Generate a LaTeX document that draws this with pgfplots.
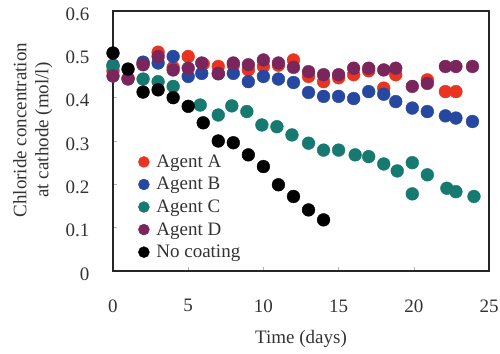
\documentclass[border=0pt]{standalone}
\usepackage{fontspec}
\setmainfont{Liberation Serif}
\usepackage{pgfplots}
\pgfplotsset{compat=1.18}
\definecolor{cA}{RGB}{232,52,32}
\definecolor{cB}{RGB}{38,72,160}
\definecolor{cC}{RGB}{22,122,112}
\definecolor{cD}{RGB}{122,38,92}
\definecolor{cE}{RGB}{0,0,0}
\begin{document}
\begin{tikzpicture}
\useasboundingbox (-113pt,-82pt) rectangle (387pt,271pt);
\begin{axis}[
  scale only axis, width=376pt, height=260pt,
  xmin=0, xmax=25, ymin=0, ymax=0.6,
  xtick={0,5,10,15,20,25}, ytick={0,0.1,0.2,0.3,0.4,0.5,0.6},
  yticklabel style={/pgf/number format/fixed, /pgf/number format/precision=1},
  /pgf/number format/assume math mode=true,
  font=\fontsize{19}{22}\selectfont,
  tick align=inside, xtick pos=bottom, ytick pos=left,
  major tick length=4pt, tick style={gray!60, line width=0.6pt},
  axis line style={line width=1.2pt, black!85},
  xticklabel style={yshift=-25pt, text=black!80},
  yticklabel style={xshift=-20pt, yshift=-3pt, text=black!80},
  xlabel={Time (days)},
  ylabel={Chloride concentration\\at cathode (mol/l)},
  every axis x label/.style={at={(axis description cs:0.5,-0.26)}, anchor=center, text=black!80},
  every axis y label/.style={at={(axis description cs:-0.213,0.542)}, anchor=center, rotate=90, align=center, text=black!80},
  legend style={at={(axis description cs:0.067,0.455)}, anchor=north west, draw=none, fill=none,
     font=\fontsize{19}{20}\selectfont, inner sep=0pt, row sep=4.5pt,
     cells={anchor=west}, text=black!80,
     /tikz/every odd column/.append style={column sep=5pt}},
  legend image code/.code={\draw[mark repeat=2,mark phase=2,#1] plot coordinates {(0pt,0pt) (6pt,0pt) (12pt,0pt)};},
  legend image post style={mark size=5.5pt},
  every axis plot/.append style={only marks, mark=*, mark size=6.4pt},
]
\addplot[cA, mark options={draw=cA, fill=cA}] coordinates {
(0,0.462) (1,0.445) (2,0.478) (3,0.505) (4,0.470) (5,0.495) (6,0.478) (7,0.472)
(8,0.475) (9,0.464) (10,0.472) (11,0.475) (12,0.487) (13,0.449) (14,0.437)
(15,0.446) (16,0.453) (17,0.462) (18,0.422) (18.8,0.453) (20.9,0.441)
(22.1,0.414) (22.8,0.414)};
\addlegendentry{Agent A}
\addplot[cB, mark options={draw=cB, fill=cB}] coordinates {
(0,0.475) (2,0.482) (3,0.480) (4,0.495) (5,0.449) (5.9,0.456) (7,0.455) (8,0.456)
(9,0.437) (10,0.449) (11,0.443) (12,0.435) (13,0.412) (14,0.403) (15,0.403)
(16,0.398) (17,0.414) (18,0.408) (18.8,0.391) (19.9,0.376) (20.9,0.368)
(22.1,0.358) (22.8,0.353) (23.9,0.345)};
\addlegendentry{Agent B}
\addplot[cC, mark options={draw=cC, fill=cC}] coordinates {
(0,0.472) (2,0.443) (3,0.437) (4,0.426) (5.8,0.383) (7,0.360) (7.9,0.381)
(8.9,0.368) (9.9,0.337) (10.9,0.333) (11.9,0.314) (13,0.295) (14,0.279)
(15,0.279) (16.1,0.268) (17,0.264) (18,0.247) (18.9,0.231) (19.9,0.250)
(19.9,0.178) (20.9,0.222) (22.2,0.191) (22.8,0.183) (24,0.172)};
\addlegendentry{Agent C}
\addplot[cD, mark options={draw=cD, fill=cD}] coordinates {
(0,0.450) (1,0.443) (2,0.476) (3,0.495) (4,0.464) (5,0.468) (5.9,0.480)
(7,0.456) (8,0.480) (9,0.476) (10,0.487) (11,0.480) (12,0.470) (13,0.460)
(14,0.453) (15,0.453) (16,0.468) (17,0.468) (18,0.464) (18.8,0.468)
(19.9,0.426) (20.9,0.433) (22.1,0.472) (22.8,0.472) (23.9,0.472)};
\addlegendentry{Agent D}
\addplot[cE, mark options={draw=cE, fill=cE}] coordinates {
(0,0.503) (1,0.466) (2,0.413) (3,0.418) (4,0.400) (5,0.380) (6,0.342)
(7,0.300) (8,0.296) (9,0.268) (10,0.241) (11,0.199) (12,0.172) (13,0.141)
(14,0.118)};
\addlegendentry{No coating}
\end{axis}
\end{tikzpicture}
\end{document}
